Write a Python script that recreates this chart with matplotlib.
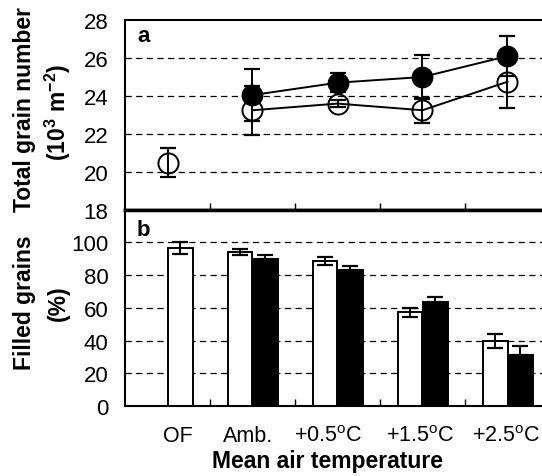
import matplotlib
matplotlib.use("Agg")
import matplotlib.pyplot as plt
import numpy as np

plt.rcParams['font.family'] = ['Liberation Sans', 'DejaVu Sans']
plt.rcParams['mathtext.fontset'] = 'custom'
plt.rcParams['mathtext.rm'] = 'Liberation Sans'
plt.rcParams['mathtext.bf'] = 'Liberation Sans:bold'

categories = ["OF", "Amb.", "+0.5$^{\\rm o}$C", "+1.5$^{\\rm o}$C", "+2.5$^{\\rm o}$C"]

# Panel a: total grain number (10^3 m^-2)
open_vals = [20.5, 23.25, 23.6, 23.25, 24.75]
open_err = [0.75, 1.3, 0.2, 0.65, 1.4]
filled_vals = [None, 24.05, 24.7, 25.0, 26.1]
filled_err = [None, 1.35, 0.5, 1.15, 1.05]

# Panel b: filled grains (%)
white_bars = [96.3, 94.0, 88.7, 57.3, 39.7]
white_err = [3.6, 2.0, 2.4, 2.8, 4.3]
black_bars = [None, 90.0, 82.9, 63.4, 31.0]
black_err = [None, 2.0, 2.4, 3.4, 5.7]

fig = plt.figure(figsize=(5.42, 4.77), dpi=100)
L = 125 / 542
W = 1 - L
axa = fig.add_axes([L, 1 - 211 / 477, W, (211 - 21) / 477])
axb = fig.add_axes([L, 1 - 407 / 477, W, (407 - 211) / 477])

centers = np.arange(len(categories)) + 0.5
xmax = (542 - 125) / 85.0

for ax in (axa, axb):
    ax.set_xlim(0, xmax)
    ax.spines['right'].set_visible(False)
    for s in ('left', 'top', 'bottom'):
        ax.spines[s].set_linewidth(1.5)
    ax.tick_params(axis='y', labelsize=16, length=0, pad=12)
    ax.set_xticks([1, 2, 3, 4])
    ax.tick_params(axis='x', direction='in', length=5, width=1, labelbottom=False)

axa.spines['bottom'].set_linewidth(2.5)
axb.spines['top'].set_linewidth(2.5)

# ---- panel a
axa.set_ylim(18, 28)
axa.set_yticks([18, 20, 22, 24, 26, 28])
for y in [20, 22, 24, 26]:
    axa.axhline(y, color='black', lw=0.9, ls=(0, (5, 3.5)), zorder=0)

xs_f = centers[1:]
axa.plot(xs_f, filled_vals[1:], color='black', lw=1.4, zorder=2)
axa.plot(xs_f, open_vals[1:], color='black', lw=1.4, zorder=2)
axa.errorbar(xs_f, filled_vals[1:], yerr=filled_err[1:], fmt='none',
             ecolor='black', elinewidth=1.4, capsize=6, capthick=1.6, zorder=3)
axa.errorbar(centers, open_vals, yerr=open_err, fmt='none',
             ecolor='black', elinewidth=1.4, capsize=6, capthick=1.6, zorder=3)
axa.plot(xs_f, filled_vals[1:], 'o', ms=14.5, mfc='black', mec='black', mew=1.2, zorder=4)
axa.plot(centers, open_vals, 'o', ms=14.5, mfc='none', mec='black', mew=1.4, zorder=4)
axa.text(0.14, 27.2, "a", fontsize=16, fontweight='bold', va='center')

# ---- panel b
axb.set_ylim(0, 119.7)
axb.set_yticks([0, 20, 40, 60, 80, 100])
for y in [20, 40, 60, 80, 100]:
    axb.axhline(y, color='black', lw=0.9, ls=(0, (5, 3.5)), zorder=0)

bw = 0.29
wx = [centers[0] + 0.15] + [c - 0.145 for c in centers[1:]]
bx = [c + 0.15 for c in centers[1:]]
axb.bar(wx, white_bars, width=bw, color='white', edgecolor='black', lw=1.4, zorder=2)
axb.bar(bx, black_bars[1:], width=bw, color='black', edgecolor='black', lw=1.4, zorder=2)
axb.errorbar(wx, white_bars, yerr=white_err, fmt='none', ecolor='black',
             elinewidth=1.4, capsize=6, capthick=1.6, zorder=3)
axb.errorbar(bx, black_bars[1:], yerr=[[0] * 4, black_err[1:]], fmt='none', ecolor='black',
             elinewidth=1.4, capsize=6, capthick=1.6, zorder=3)
axb.text(0.14, 108, "b", fontsize=16, fontweight='bold', va='center')

label_x = [0.62, 1.45, 2.39, 3.47, 4.48]
for x, lab in zip(label_x, categories):
    axb.text(x, -18, lab, fontsize=15.5, ha='center', va='center')

fig.text(327 / 542, 1 - 462 / 477, "Mean air temperature",
         fontsize=16.5, fontweight='bold', ha='center', va='center')

fig.text(25 / 542, 1 - 110 / 477, "Total grain number", rotation=90,
         fontsize=16.5, fontweight='bold', ha='center', va='center')
fig.text(58 / 542, 1 - 112 / 477, "(10$^{\\mathbf{3}}$ m$^{\\mathbf{-2}}$)", rotation=90,
         fontsize=16.5, fontweight='bold', ha='center', va='center')
fig.text(25 / 542, 1 - 303 / 477, "Filled grains", rotation=90,
         fontsize=16.5, fontweight='bold', ha='center', va='center')
fig.text(58 / 542, 1 - 303 / 477, "(%)", rotation=90,
         fontsize=16.5, fontweight='bold', ha='center', va='center')

fig.savefig("out.png", dpi=100)
